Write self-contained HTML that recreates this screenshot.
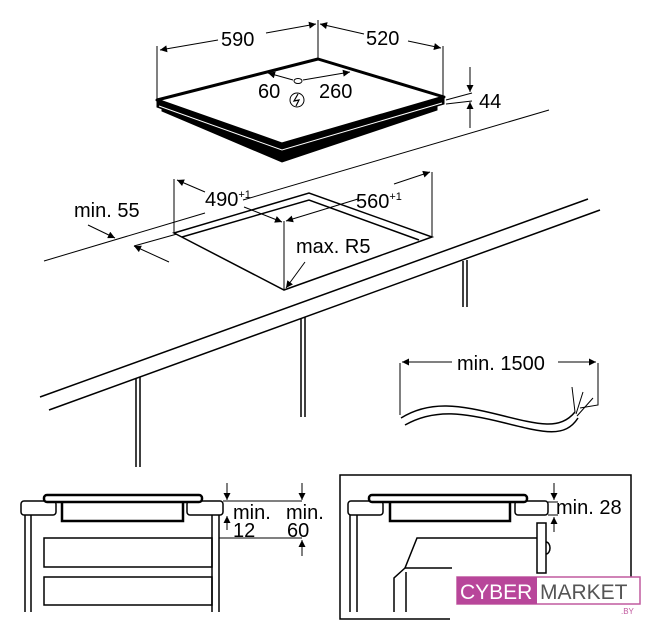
<!DOCTYPE html>
<html><head><meta charset="utf-8"><style>
html,body{margin:0;padding:0;background:#fff;}
svg{display:block;font-family:"Liberation Sans",sans-serif;}
</style></head><body>
<svg width="651" height="640" viewBox="0 0 651 640" xmlns="http://www.w3.org/2000/svg">
<defs>
<marker id="a" viewBox="0 0 10 10" refX="10" refY="5" markerWidth="9" markerHeight="7" orient="auto-start-reverse" markerUnits="userSpaceOnUse"><path d="M0,0L10,5L0,10z" fill="#000"/></marker>
</defs>
<g fill="none" stroke="#000" stroke-width="1">
<line x1="157" y1="100" x2="157" y2="46"/>
<line x1="318" y1="59" x2="318" y2="20"/>
<line x1="443" y1="97" x2="443" y2="46"/>
<line x1="218" y1="40" x2="160" y2="50" marker-end="url(#a)"/>
<line x1="266" y1="33" x2="316" y2="24" marker-end="url(#a)"/>
<line x1="364" y1="34" x2="320" y2="24" marker-end="url(#a)"/>
<line x1="408" y1="41" x2="441" y2="48" marker-end="url(#a)"/>
<polygon points="157,107 282,152 444,104 444,97 282,144 157,100" fill="#000"/>
<polygon points="162,111 282,162 437,110 437,104 282,152 162,106" fill="#000"/>
<polyline points="159,106 282,150 442,103" stroke="#fff" stroke-width="1"/>
<polygon points="157,100 318,59 444,97 282,144" fill="#fff" stroke-width="3" stroke-linejoin="round"/>
<ellipse cx="298" cy="81" rx="4" ry="2.5"/>
<line x1="293" y1="80" x2="268" y2="73" marker-end="url(#a)"/>
<line x1="303" y1="80" x2="350" y2="72" marker-end="url(#a)"/>
<circle cx="297" cy="100" r="7"/>
<path d="M298,94 L294,101 L299,100 L296,106" stroke-width="1.2"/>
<line x1="446" y1="100" x2="472" y2="93"/>
<line x1="446" y1="104" x2="472" y2="101"/>
<line x1="470" y1="67" x2="470" y2="92" marker-end="url(#a)"/>
<line x1="470" y1="128" x2="470" y2="102" marker-end="url(#a)"/>
<line x1="44" y1="261" x2="205" y2="213"/>
<line x1="243" y1="200" x2="549" y2="110"/>
<line x1="40" y1="397" x2="588" y2="199" stroke-width="1.5"/>
<line x1="49" y1="410" x2="600" y2="210" stroke-width="1.5"/>
<line x1="136" y1="378" x2="136" y2="467" stroke-width="1.5"/><line x1="140" y1="377" x2="140" y2="467" stroke-width="1.5"/>
<line x1="301" y1="318" x2="301" y2="417" stroke-width="1.5"/><line x1="305" y1="317" x2="305" y2="417" stroke-width="1.5"/>
<line x1="463" y1="261" x2="463" y2="307" stroke-width="1.5"/><line x1="467" y1="260" x2="467" y2="307" stroke-width="1.5"/>
<polygon points="174,233 309,193 432,237 284,290" stroke-width="1.5" fill="#fff"/>
<polyline points="182,237 309,200 419,240" stroke-width="1.5"/>
<line x1="174" y1="179" x2="174" y2="233"/>
<line x1="432" y1="172" x2="432" y2="237"/>
<line x1="284" y1="221" x2="284" y2="290"/>
<line x1="205" y1="192" x2="177" y2="180" marker-end="url(#a)"/>
<line x1="244" y1="207" x2="282" y2="222" marker-end="url(#a)"/>
<line x1="358" y1="199" x2="286" y2="221" marker-end="url(#a)"/>
<line x1="394" y1="184" x2="430" y2="172" marker-end="url(#a)"/>
<line x1="305" y1="262" x2="286" y2="288" marker-end="url(#a)"/>
<line x1="88" y1="225" x2="115" y2="238" marker-end="url(#a)"/>
<line x1="169" y1="262" x2="134" y2="246" marker-end="url(#a)"/>
<line x1="134" y1="246" x2="177" y2="234"/>
<polyline points="400,415 400,363"/><polyline points="598,363 598,405 580,408"/>
<line x1="452" y1="362" x2="402" y2="362" marker-end="url(#a)"/>
<line x1="558" y1="362" x2="596" y2="362" marker-end="url(#a)"/>
<path d="M401,418 C430,400 460,405 500,415 S560,430 575,412" stroke-width="1.5"/>
<path d="M405,425 C435,408 465,413 505,423 S565,438 578,418" stroke-width="1.5"/>
<path d="M575,412 L572,387 M576,414 L583,392 M577,416 L593,398"/>
<rect x="21" y="501" width="35" height="14" rx="3" stroke-width="1.5"/>
<rect x="187" y="501" width="36" height="14" rx="3" stroke-width="1.5"/>
<rect x="44" y="495" width="158" height="7" rx="3" stroke-width="2.5" fill="#fff"/>
<polyline points="62,502 62,521 183,521 183,502" stroke-width="2.5"/>
<line x1="25" y1="515" x2="25" y2="612" stroke-width="1.5"/><line x1="31" y1="515" x2="31" y2="612" stroke-width="1.5"/>
<line x1="212" y1="515" x2="212" y2="612" stroke-width="1.5"/><line x1="219" y1="515" x2="219" y2="612" stroke-width="1.5"/>
<rect x="44" y="538" width="168" height="29" stroke-width="1.5"/>
<rect x="44" y="577" width="168" height="28" stroke-width="1.5"/>
<line x1="223" y1="501" x2="302" y2="501"/>
<line x1="219" y1="538" x2="302" y2="538"/>
<line x1="227" y1="483" x2="227" y2="500" marker-end="url(#a)"/>
<line x1="227" y1="530" x2="227" y2="516" marker-end="url(#a)"/>
<line x1="302" y1="483" x2="302" y2="500" marker-end="url(#a)"/>
<line x1="302" y1="556" x2="302" y2="540" marker-end="url(#a)"/>
<polyline points="450,619 340,619 340,475 631,475 631,580" stroke-width="1.5"/>
<rect x="348" y="501" width="35" height="14" rx="3" stroke-width="1.5"/>
<rect x="515" y="501" width="33" height="14" rx="3" stroke-width="1.5"/>
<rect x="369" y="495" width="158" height="7" rx="3" stroke-width="2.5" fill="#fff"/>
<polyline points="390,502 390,521 510,521 510,502" stroke-width="2.5"/>
<line x1="350" y1="515" x2="350" y2="612" stroke-width="1.5"/><line x1="357" y1="515" x2="357" y2="612" stroke-width="1.5"/>
<rect x="537" y="523" width="9" height="50" stroke-width="1.5"/>
<path d="M546,542 A4,6 0 0 1 546,554" stroke-width="1.5"/>
<polyline points="537,538 417,538 405,568 452,568" stroke-width="1.5"/>
<polyline points="405,568 394,578 394,612" stroke-width="1.5"/>
<line x1="406" y1="572" x2="406" y2="612" stroke-width="1.5"/>
<line x1="548" y1="502" x2="558" y2="502"/>
<line x1="548" y1="515" x2="558" y2="515"/>
<line x1="554" y1="483" x2="554" y2="500" marker-end="url(#a)"/>
<line x1="554" y1="532" x2="554" y2="517" marker-end="url(#a)"/>
</g>
<g font-size="20" fill="#000">
<text x="221" y="46">590</text>
<text x="366" y="45">520</text>
<text x="258" y="98">60</text>
<text x="319" y="98">260</text>
<text x="479" y="108">44</text>
<text x="205" y="206">490<tspan font-size="11" dy="-8">+1</tspan></text>
<text x="356" y="208">560<tspan font-size="11" dy="-8">+1</tspan></text>
<text x="74" y="217">min. 55</text>
<text x="296" y="253">max. R5</text>
<text x="457" y="370">min. 1500</text>
<text x="233" y="519">min.</text>
<text x="233" y="537">12</text>
<text x="286" y="519">min.</text>
<text x="287" y="537">60</text>
<text x="556" y="514">min. 28</text>
</g>
<rect x="457" y="577" width="183" height="27" fill="#fff" stroke="#c15a9f" stroke-width="1.5"/>
<rect x="457" y="577" width="80" height="27" fill="#b8469a"/>
<text x="460" y="599" font-size="21" fill="#fff">CYBER</text>
<text x="540" y="599" font-size="21" fill="#555">MARKET</text>
<text x="621" y="614" font-size="8" fill="#c15a9f">.BY</text>
</svg>
</body></html>
